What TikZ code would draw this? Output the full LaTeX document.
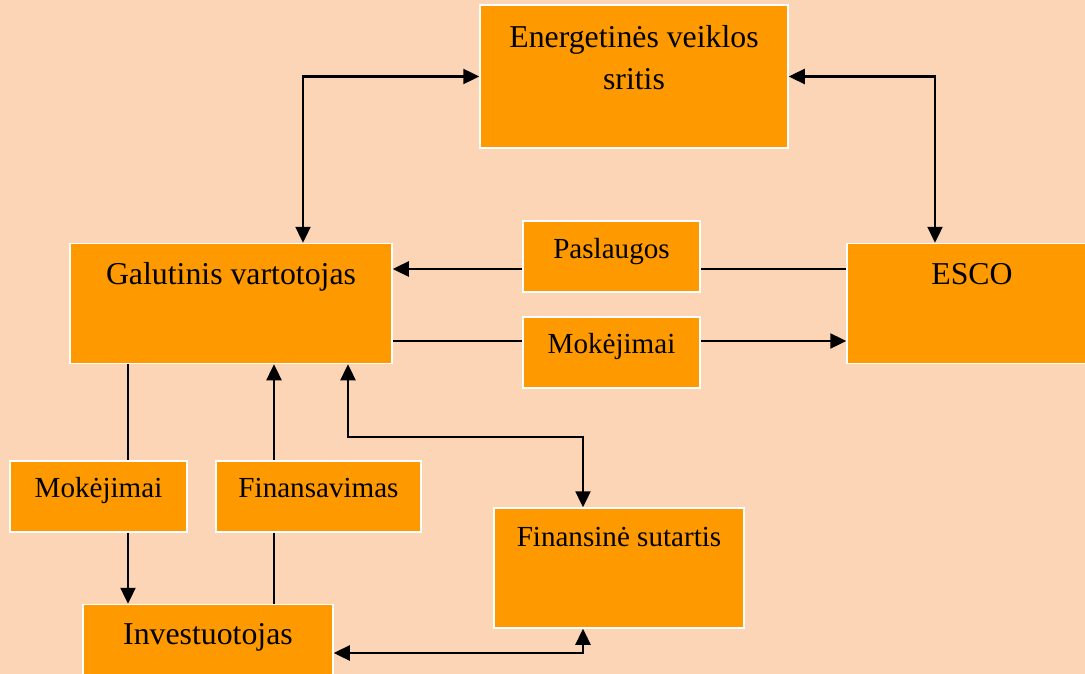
\documentclass[tikz,border=0pt]{standalone}
\usepackage{fontspec}
\setmainfont{Liberation Serif}
\usetikzlibrary{arrows.meta,positioning,calc}
\definecolor{PeachBg}{HTML}{FBD5B5}
\definecolor{BoxOrange}{HTML}{FF9900}
\begin{document}
\begin{tikzpicture}[
x=1pt,y=-1pt,
box/.style={draw=white,line width=1.5pt,fill=BoxOrange,inner sep=0pt},
txt/.style={anchor=base,align=center,inner sep=0pt,font=\fontsize{31.8}{42}\selectfont},
stxt/.style={txt,font=\fontsize{29.1}{38}\selectfont},
ln/.style={line width=2.4pt},
arr/.style={-{Triangle[length=16pt,width=15pt]},line width=2.4pt},
dbl/.style={{Triangle[length=16pt,width=15pt]}-{Triangle[length=16pt,width=15pt]},line width=2.4pt}
]
% background and page size
\fill[PeachBg] (0,0) rectangle (1085,674);
\useasboundingbox (0,0) rectangle (1085,674);
% boxes
\node[box,minimum width=308pt,minimum height=143pt] (ener) at (634,76.5) {};
\node[box,minimum width=322pt,minimum height=120pt] (galut) at (231,303.5) {};
\node[box,minimum width=250pt,minimum height=120pt] (esco) at (972,303.5) {};
\node[box,minimum width=177pt,minimum height=71pt] (pasl) at (611.5,256.5) {};
\node[box,minimum width=177pt,minimum height=71pt] (mokM) at (611.5,352.5) {};
\node[box,minimum width=177pt,minimum height=71pt] (mokL) at (98.5,496.5) {};
\node[box,minimum width=205pt,minimum height=71pt] (finv) at (318.5,496.5) {};
\node[box,minimum width=250pt,minimum height=120pt] (sut) at (619,568) {};
\node[box,minimum width=250pt,minimum height=120pt] (inv) at (208,664.5) {};
% texts
\node[txt] (enerT) at ([yshift=-85pt]ener.north) {Energetinės veiklos\\sritis};
\node[txt] (galutT) at ([yshift=-41.5pt]galut.north) {Galutinis vartotojas};
\node[txt] (escoT) at ([yshift=-41.5pt]esco.north) {ESCO};
\node[stxt] (paslT) at ([yshift=-38pt]pasl.north) {Paslaugos};
\node[stxt] (mokMT) at ([yshift=-37.5pt]mokM.north) {Mokėjimai};
\node[stxt] (mokLT) at ([yshift=-37.5pt]mokL.north) {Mokėjimai};
\node[stxt] (finvT) at ([yshift=-37.5pt]finv.north) {Finansavimas};
\node[stxt] (sutT) at ([yshift=-39pt]sut.north) {Finansinė sutartis};
\node[txt] (invT) at ([yshift=-40.5pt]inv.north) {Investuotojas};
% connector end points
\coordinate (paslE) at ([yshift=-12.5pt]pasl.east);
\coordinate (paslW) at ([yshift=-12.5pt]pasl.west);
\coordinate (mokME) at ([yshift=11.5pt]mokM.east);
\coordinate (mokMW) at ([yshift=11.5pt]mokM.west);
\coordinate (mokLN) at ([xshift=29.5pt]mokL.north);
\coordinate (mokLS) at ([xshift=29.5pt]mokL.south);
\coordinate (finvN) at ([xshift=-44.5pt]finv.north);
\coordinate (finvS) at ([xshift=-44.5pt]finv.south);
\coordinate (sutN) at ([xshift=-36pt]sut.north);
\coordinate (sutS) at ([xshift=-36pt]sut.south);
% connectors
\draw[dbl] (ener.west) -| ([xshift=72pt]galut.north);
\draw[dbl] (ener.east) -| ([xshift=-37pt]esco.north);
\draw[ln] (paslE) -- (esco.west |- paslE);
\draw[arr] (paslW) -- (galut.east |- paslW);
\draw[ln] (galut.east |- mokMW) -- (mokMW);
\draw[arr] (mokME) -- (esco.west |- mokME);
\draw[ln] (galut.south -| mokLN) -- (mokLN);
\draw[arr] (mokLS) -- (inv.north -| mokLS);
\draw[arr] (finvN) -- (galut.south -| finvN);
\draw[ln] (inv.north -| finvS) -- (finvS);
\draw[dbl] ([xshift=117pt]galut.south) -- ++(0,72.5) -| (sutN);
\draw[dbl] (sutS) |- ([yshift=11.5pt]inv.east);
\end{tikzpicture}
\end{document}
